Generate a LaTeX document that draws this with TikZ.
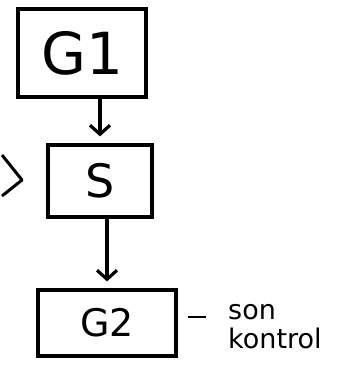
\documentclass[tikz,border=0pt]{standalone}
\usepackage{fontspec}
\setmainfont{DejaVu Sans}
\usetikzlibrary{arrows.meta,calc}
\begin{document}
\begin{tikzpicture}[x=1pt,y=-1pt,
  box/.style={draw,line width=3.2pt,inner sep=0pt,anchor=center},
  conn/.style={line width=3.2pt,-{Straight Barb[length=9pt,width=20pt,line width=3.2pt]}},
  lbl/.style={inner sep=0pt}]
\useasboundingbox[fill=white] (0,0) rectangle (338,366);
\node[box,minimum width=128pt,minimum height=88pt,font=\fontsize{58}{58}\selectfont] (G1) at (82,53) {G1};
\node[box,minimum width=104pt,minimum height=72pt,font=\fontsize{46}{46}\selectfont] (S) at (100,181) {S};
\node[box,minimum width=138pt,minimum height=66pt,font=\fontsize{38}{38}\selectfont] (G2) at (107,323) {G2};
\node[lbl,anchor=west] (L) at (228,327) {\fontsize{27}{31}\selectfont\shortstack[l]{son\\[5pt]kontrol}};
\coordinate (inA) at (2,155);
\coordinate (inT) at (22,180);
\coordinate (inB) at (2,196);
\draw[line width=3pt,line join=round] (inA) -- (inT) -- (inB);
\draw[conn,shorten >=7pt] (G1.south -| S.center) -- (S.north);
\draw[conn,shorten >=7pt] (S.south -| G2.north) -- (G2.north);
\draw[line width=2.4pt] ([xshift=10pt]G2.east |- 0,317) -- ([xshift=-22pt]L.west |- 0,317);
\end{tikzpicture}
\end{document}
